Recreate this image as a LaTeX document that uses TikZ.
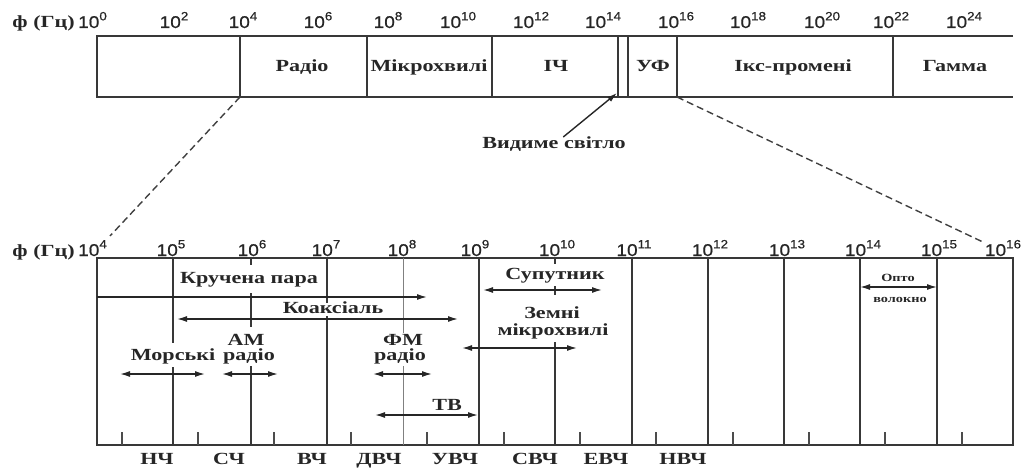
\documentclass[tikz,border=0pt]{standalone}
\usepackage{fontspec}
\setmainfont{Liberation Serif}[FakeStretch=1.3]
\newfontfamily\numfont{Liberation Sans}[FakeStretch=1.12,FakeBold=0.6]
\usetikzlibrary{arrows.meta}
\newcommand\pwr[1]{{\numfont 10\raisebox{0.45em}{\fontsize{12}{13}\selectfont #1}}}
\begin{document}
\begin{tikzpicture}[x=1pt,y=-1pt,
  every node/.style={inner sep=0pt, text=black!85},
  frm/.style={line width=1.4pt, draw=black!78},
  lgt/.style={line width=0.9pt, draw=black!50},
  tck/.style={line width=1.1pt, draw=black!70},
  txt/.style={font=\fontsize{17}{19}\selectfont\bfseries, anchor=base},
  smalltxt/.style={font=\fontsize{11}{12}\selectfont\bfseries, anchor=base},
  num/.style={font=\fontsize{17}{19}\selectfont, anchor=base},
  dbl/.style={{Latex[length=10pt,width=6pt]}-{Latex[length=10pt,width=6pt]}, line width=1.4pt, draw=black!85},
  sgl/.style={-{Latex[length=10pt,width=6pt]}, line width=1.4pt, draw=black!85},
  dashln/.style={dash pattern=on 7pt off 4pt, line width=1.4pt, draw=black!75},
]
\useasboundingbox (0,0) rectangle (1035,470);

% ---------- top box ----------
\draw[frm] (1013,36) -- (97,36) -- (97,97) -- (1013,97);
\foreach \x in {240,367,492,618,628,677,893} \draw[frm] (\x,36) -- (\x,97);

\node[txt] (radio) at (302,72) {Радіо};
\node[txt] (micro) at (429,72) {Мікрохвилі};
\node[txt] (ir)    at (556,72) {ІЧ};
\node[txt] (uv)    at (653,72) {УФ};
\node[txt] (xray)  at (793,72) {Ікс-промені};
\node[txt] (gamma) at (955,72) {Гамма};

% top scale
\node[txt, anchor=base east] (f1) at (75,28) {ф (Гц)};
\node[num, anchor=base west] (s0) at (78,28) {\pwr{0}};
\node[num] (s2)  at (174,28) {\pwr{2}};
\node[num] (s4)  at (243,28) {\pwr{4}};
\node[num] (s6)  at (318,28) {\pwr{6}};
\node[num] (s8)  at (388,28) {\pwr{8}};
\node[num] (s10) at (458,28) {\pwr{10}};
\node[num] (s12) at (531,28) {\pwr{12}};
\node[num] (s14) at (603,28) {\pwr{14}};
\node[num] (s16) at (676,28) {\pwr{16}};
\node[num] (s18) at (748,28) {\pwr{18}};
\node[num] (s20) at (822,28) {\pwr{20}};
\node[num] (s22) at (891,28) {\pwr{22}};
\node[num] (s24) at (964,28) {\pwr{24}};

% visible light
\node[txt] (vis) at (554,149) {Видиме світло};
\coordinate (visp) at (617,93);
\draw[sgl] (vis) -- (visp);

% dashed zoom lines
\coordinate (za) at (240,97);
\coordinate (zb) at (110,236);
\coordinate (zc) at (677,97);
\coordinate (zd) at (985,243);
\draw[dashln] (za) -- (zb);
\draw[dashln] (zc) -- (zd);

% ---------- bottom box ----------
\draw[frm] (97,258) rectangle (1013,445);
\foreach \x in {479,632,708,784,860,937} \draw[frm] (\x,258) -- (\x,445);
% 10^5
\draw[frm] (173,258) -- (173,343) (173,367) -- (173,445);
% 10^6
\draw[frm] (251,258) -- (251,265) (251,293) -- (251,327) (251,366) -- (251,445);
% 10^7
\draw[frm] (327,258) -- (327,303) (327,316) -- (327,445);
% 10^8
\draw[lgt] (403,258) -- (403,333) (403,366) -- (403,445);
% 10^10
\draw[frm] (555,258) -- (555,264) (555,286) -- (555,295) (555,342) -- (555,445);
% small ticks
\foreach \x in {122,198,274,351,427,504,580,656,733,809,885,962} \draw[tck] (\x,432) -- (\x,445);

% bottom scale
\node[txt, anchor=base east] (f2) at (75,256) {ф (Гц)};
\node[num, anchor=base west] (b4) at (78,256) {\pwr{4}};
\node[num] (b5)  at (171,256) {\pwr{5}};
\node[num] (b6)  at (252,256) {\pwr{6}};
\node[num] (b7)  at (326,256) {\pwr{7}};
\node[num] (b8)  at (402,256) {\pwr{8}};
\node[num] (b9)  at (475,256) {\pwr{9}};
\node[num] (b10) at (557,256) {\pwr{10}};
\node[num] (b11) at (634,256) {\pwr{11}};
\node[num] (b12) at (710,256) {\pwr{12}};
\node[num] (b13) at (787,256) {\pwr{13}};
\node[num] (b14) at (863,256) {\pwr{14}};
\node[num] (b15) at (939,256) {\pwr{15}};
\node[num] (b16) at (1003,256) {\pwr{16}};

% band labels
\node[txt] (lf)  at (157,464) {НЧ};
\node[txt] (mf)  at (229,464) {СЧ};
\node[txt] (hf)  at (312,464) {ВЧ};
\node[txt] (vhf) at (379,464) {ДВЧ};
\node[txt] (uhf) at (455,464) {УВЧ};
\node[txt] (shf) at (535,464) {СВЧ};
\node[txt] (ehf) at (606,464) {ЕВЧ};
\node[txt] (thf) at (683,464) {НВЧ};

% media
\node[txt] (tp) at (249,283) {Кручена пара};
\coordinate (tpa) at (97,297); \coordinate (tpb) at (427,297);
\draw[sgl] (tpa) -- (tpb);

\node[txt] (coax) at (333,313) {Коаксіаль};
\coordinate (cxa) at (177,319); \coordinate (cxb) at (458,319);
\draw[dbl] (cxa) -- (cxb);

\node[txt] (mar) at (173,360) {Морські};
\coordinate (mra) at (120,374); \coordinate (mrb) at (205,374);
\draw[dbl] (mra) -- (mrb);

\node[txt] (am1) at (246,345) {АМ};
\node[txt] (am2) at (249,360) {радіо};
\coordinate (ama) at (222,374); \coordinate (amb) at (278,374);
\draw[dbl] (ama) -- (amb);

\node[txt] (fm1) at (403,345) {ФМ};
\node[txt] (fm2) at (400,360) {радіо};
\coordinate (fma) at (373,374); \coordinate (fmb) at (432,374);
\draw[dbl] (fma) -- (fmb);

\node[txt] (tv) at (447,410) {ТВ};
\coordinate (tva) at (375,415); \coordinate (tvb) at (478,415);
\draw[dbl] (tva) -- (tvb);

\node[txt] (sat) at (555,279) {Супутник};
\coordinate (sta) at (483,290); \coordinate (stb) at (602,290);
\draw[dbl] (sta) -- (stb);

\node[txt] (ter1) at (552,318) {Земні};
\node[txt] (ter2) at (553,335) {мікрохвилі};
\coordinate (tra) at (462,348); \coordinate (trb) at (577,348);
\draw[dbl] (tra) -- (trb);

\node[smalltxt] (op1) at (898,281) {Опто};
\node[smalltxt] (op2) at (900,302) {волокно};
\coordinate (opa) at (860,287); \coordinate (opb) at (937,287);
\draw[dbl] (opa) -- (opb);
\end{tikzpicture}
\end{document}
